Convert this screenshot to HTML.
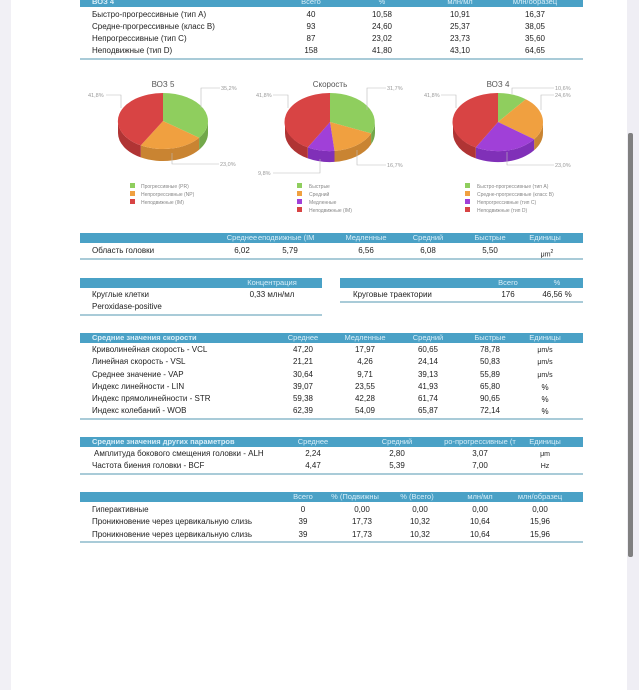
<!DOCTYPE html>
<html><head><meta charset="utf-8"><style>
body{margin:0;width:639px;height:690px;overflow:hidden;background:#fff;font-family:"Liberation Sans",sans-serif;position:relative}
.lm{position:absolute;left:0;top:0;width:11px;height:690px;background:#f1f0f5}
.sb{position:absolute;left:627px;top:0;width:12px;height:690px;background:#efeef4}
.th{position:absolute;left:628px;top:133px;width:5px;height:424px;background:#808080;border-radius:2px}
.t{position:absolute;font-size:8px;color:#222;white-space:nowrap;line-height:10px}
.h{position:absolute;background:#4aa1c6;height:10px}
.w{color:#d8eef8;font-size:7.5px}
.c{transform:translateX(-50%)}
.ln{position:absolute;height:2px;background:#a9cbd8}
.b{font-weight:bold}
</style></head><body>
<div class="lm"></div><div class="sb"></div><div class="th"></div>

<!-- Table 1 -->
<div class="h" style="left:80px;top:-3px;width:503px"></div>
<div class="t w b" style="left:92px;top:-3px">ВОЗ 4</div>
<div class="t w c" style="left:311px;top:-3px">Всего</div>
<div class="t w c" style="left:382px;top:-3px">%</div>
<div class="t w c" style="left:460px;top:-3px">млн/мл</div>
<div class="t w c" style="left:535px;top:-3px">млн/образец</div>
<div class="t" style="left:92px;top:10px">Быстро-прогрессивные (тип A)</div>
<div class="t c" style="left:311px;top:10px">40</div><div class="t c" style="left:382px;top:10px">10,58</div><div class="t c" style="left:460px;top:10px">10,91</div><div class="t c" style="left:535px;top:10px">16,37</div>
<div class="t" style="left:92px;top:22px">Средне-прогрессивные (класс B)</div>
<div class="t c" style="left:311px;top:22px">93</div><div class="t c" style="left:382px;top:22px">24,60</div><div class="t c" style="left:460px;top:22px">25,37</div><div class="t c" style="left:535px;top:22px">38,05</div>
<div class="t" style="left:92px;top:34px">Непрогрессивные (тип C)</div>
<div class="t c" style="left:311px;top:34px">87</div><div class="t c" style="left:382px;top:34px">23,02</div><div class="t c" style="left:460px;top:34px">23,73</div><div class="t c" style="left:535px;top:34px">35,60</div>
<div class="t" style="left:92px;top:46px">Неподвижные (тип D)</div>
<div class="t c" style="left:311px;top:46px">158</div><div class="t c" style="left:382px;top:46px">41,80</div><div class="t c" style="left:460px;top:46px">43,10</div><div class="t c" style="left:535px;top:46px">64,65</div>
<div class="ln" style="left:80px;top:58px;width:503px"></div>

<!-- Pies -->
<svg style="position:absolute;left:0;top:0" width="639" height="230" font-family="Liberation Sans, sans-serif">
<g font-size="5.5" fill="#999">
<text x="163" y="87" font-size="8" fill="#555" text-anchor="middle">ВОЗ 5</text>
<path d="M208,121 A45 28 0 0 1 199.1,137.7 L199.1,149.7 A45 28 0 0 0 208,133 Z" fill="#72a84a"/>
<path d="M199.1,137.7 A45 28 0 0 1 140.8,145.4 L140.8,157.4 A45 28 0 0 0 199.1,149.7 Z" fill="#c98432"/>
<path d="M140.8,145.4 A45 28 0 0 1 118,121 L118,133 A45 28 0 0 0 140.8,157.4 Z" fill="#b03434"/>
<path d="M163,121 L163,93 A45 28 0 0 1 199.1,137.7 Z" fill="#8fce5e"/>
<path d="M163,121 L199.1,137.7 A45 28 0 0 1 140.8,145.4 Z" fill="#f0a040"/>
<path d="M163,121 L140.8,145.4 A45 28 0 0 1 163,93 Z" fill="#d84444"/>
<polyline points="201,108 201,88 220,88" fill="none" stroke="#bbb" stroke-width=".6"/><text x="221" y="90">35,2%</text>
<polyline points="172,153 172,164 219,164" fill="none" stroke="#bbb" stroke-width=".6"/><text x="220" y="166">23,0%</text>
<polyline points="121,108 121,95 106,95" fill="none" stroke="#bbb" stroke-width=".6"/><text x="88" y="97">41,8%</text>
<text x="330" y="87" font-size="8" fill="#555" text-anchor="middle">Скорость</text>
<path d="M375,122 A45 29 0 0 1 371.1,133.4 L371.1,144.4 A45 29 0 0 0 375,133 Z" fill="#72a84a"/>
<path d="M371.1,133.4 A45 29 0 0 1 334.5,150.9 L334.5,161.9 A45 29 0 0 0 371.1,144.4 Z" fill="#c98432"/>
<path d="M334.5,150.9 A45 29 0 0 1 307.8,147.4 L307.8,158.4 A45 29 0 0 0 334.5,161.9 Z" fill="#8030b8"/>
<path d="M307.8,147.4 A45 29 0 0 1 285,122 L285,133 A45 29 0 0 0 307.8,158.4 Z" fill="#b03434"/>
<path d="M330,122 L330,93 A45 29 0 0 1 371.1,133.4 Z" fill="#8fce5e"/>
<path d="M330,122 L371.1,133.4 A45 29 0 0 1 334.5,150.9 Z" fill="#f0a040"/>
<path d="M330,122 L334.5,150.9 A45 29 0 0 1 307.8,147.4 Z" fill="#a040d8"/>
<path d="M330,122 L307.8,147.4 A45 29 0 0 1 330,93 Z" fill="#d84444"/>
<polyline points="367,110 367,88 386,88" fill="none" stroke="#bbb" stroke-width=".6"/><text x="387" y="90">31,7%</text>
<polyline points="357,150 357,165 386,165" fill="none" stroke="#bbb" stroke-width=".6"/><text x="387" y="167">16,7%</text>
<polyline points="320,159 320,173 273,173" fill="none" stroke="#bbb" stroke-width=".6"/><text x="258" y="175">9,8%</text>
<polyline points="288,108 288,95 273,95" fill="none" stroke="#bbb" stroke-width=".6"/><text x="256" y="97">41,8%</text>
<text x="498" y="87" font-size="8" fill="#555" text-anchor="middle">ВОЗ 4</text>
<path d="M543,122 A45 29 0 0 1 534.1,139.3 L534.1,150.3 A45 29 0 0 0 543,133 Z" fill="#c98432"/>
<path d="M534.1,139.3 A45 29 0 0 1 475.8,147.4 L475.8,158.4 A45 29 0 0 0 534.1,150.3 Z" fill="#8030b8"/>
<path d="M475.8,147.4 A45 29 0 0 1 453,122 L453,133 A45 29 0 0 0 475.8,158.4 Z" fill="#b03434"/>
<path d="M498,122 L498,93 A45 29 0 0 1 525.8,99.2 Z" fill="#8fce5e"/>
<path d="M498,122 L525.8,99.2 A45 29 0 0 1 534.1,139.3 Z" fill="#f0a040"/>
<path d="M498,122 L534.1,139.3 A45 29 0 0 1 475.8,147.4 Z" fill="#a040d8"/>
<path d="M498,122 L475.8,147.4 A45 29 0 0 1 498,93 Z" fill="#d84444"/>
<polyline points="512,94 512,88 554,88" fill="none" stroke="#bbb" stroke-width=".6"/><text x="555" y="90">10,6%</text>
<polyline points="541,110 541,95 554,95" fill="none" stroke="#bbb" stroke-width=".6"/><text x="555" y="97">24,6%</text>
<polyline points="507,152 507,165 554,165" fill="none" stroke="#bbb" stroke-width=".6"/><text x="555" y="167">23,0%</text>
<polyline points="456,108 456,95 441,95" fill="none" stroke="#bbb" stroke-width=".6"/><text x="424" y="97">41,8%</text>
</g>
<g font-size="5" fill="#888">
<rect x="130" y="183" width="5" height="5" fill="#8fce5e"/><text x="141" y="188">Прогрессивные (PR)</text>
<rect x="130" y="191" width="5" height="5" fill="#f0a040"/><text x="141" y="196">Непрогрессивные (NP)</text>
<rect x="130" y="199" width="5" height="5" fill="#d84444"/><text x="141" y="204">Неподвижные (IM)</text>
<rect x="297" y="183" width="5" height="5" fill="#8fce5e"/><text x="309" y="188">Быстрые</text>
<rect x="297" y="191" width="5" height="5" fill="#f0a040"/><text x="309" y="196">Средний</text>
<rect x="297" y="199" width="5" height="5" fill="#a040d8"/><text x="309" y="204">Медленные</text>
<rect x="297" y="207" width="5" height="5" fill="#d84444"/><text x="309" y="212">Неподвижные (IM)</text>
<rect x="465" y="183" width="5" height="5" fill="#8fce5e"/><text x="477" y="188">Быстро-прогрессивные (тип A)</text>
<rect x="465" y="191" width="5" height="5" fill="#f0a040"/><text x="477" y="196">Средне-прогрессивные (класс B)</text>
<rect x="465" y="199" width="5" height="5" fill="#a040d8"/><text x="477" y="204">Непрогрессивные (тип C)</text>
<rect x="465" y="207" width="5" height="5" fill="#d84444"/><text x="477" y="212">Неподвижные (тип D)</text>
</g>
</svg>

<!-- Head area -->
<div class="h" style="left:80px;top:233px;width:503px"></div>
<div class="t w c" style="left:242px;top:233px">Среднее</div>
<div class="t w" style="left:258px;top:233px;width:62px;overflow:hidden">еподвижные (IM</div>
<div class="t w c" style="left:366px;top:233px">Медленные</div>
<div class="t w c" style="left:428px;top:233px">Средний</div>
<div class="t w c" style="left:490px;top:233px">Быстрые</div>
<div class="t w c" style="left:545px;top:233px">Единицы</div>
<div class="t" style="left:92px;top:246px">Область головки</div>
<div class="t c" style="left:242px;top:246px">6,02</div><div class="t c" style="left:290px;top:246px">5,79</div><div class="t c" style="left:366px;top:246px">6,56</div><div class="t c" style="left:428px;top:246px">6,08</div><div class="t c" style="left:490px;top:246px">5,50</div>
<div class="t c" style="left:547px;top:247px;font-size:7px">μm<sup style="font-size:5px">2</sup></div>
<div class="ln" style="left:80px;top:258px;width:503px"></div>

<!-- Concentration -->
<div class="h" style="left:80px;top:278px;width:242px"></div>
<div class="t w c" style="left:272px;top:278px">Концентрация</div>
<div class="t" style="left:92px;top:290px">Круглые клетки</div>
<div class="t c" style="left:272px;top:290px">0,33 млн/мл</div>
<div class="t" style="left:92px;top:302px">Peroxidase-positive</div>
<div class="ln" style="left:80px;top:314px;width:242px"></div>
<div class="h" style="left:340px;top:278px;width:243px"></div>
<div class="t w c" style="left:508px;top:278px">Всего</div>
<div class="t w c" style="left:557px;top:278px">%</div>
<div class="t" style="left:353px;top:290px">Круговые траектории</div>
<div class="t c" style="left:508px;top:290px">176</div>
<div class="t c" style="left:557px;top:290px">46,56 %</div>
<div class="ln" style="left:340px;top:301px;width:243px"></div>

<!-- Velocity -->
<div class="h" style="left:80px;top:333px;width:503px"></div>
<div class="t w b" style="left:92px;top:333px">Средние значения скорости</div>
<div class="t w c" style="left:303px;top:333px">Среднее</div>
<div class="t w c" style="left:365px;top:333px">Медленные</div>
<div class="t w c" style="left:428px;top:333px">Средний</div>
<div class="t w c" style="left:490px;top:333px">Быстрые</div>
<div class="t w c" style="left:545px;top:333px">Единицы</div>

<div class="t" style="left:92px;top:345px">Криволинейная скорость - VCL</div>
<div class="t c" style="left:303px;top:345px">47,20</div><div class="t c" style="left:365px;top:345px">17,97</div><div class="t c" style="left:428px;top:345px">60,65</div><div class="t c" style="left:490px;top:345px">78,78</div><div class="t c" style="left:545px;top:346px;font-size:7px">μm/s</div>
<div class="t" style="left:92px;top:357px">Линейная скорость - VSL</div>
<div class="t c" style="left:303px;top:357px">21,21</div><div class="t c" style="left:365px;top:357px">4,26</div><div class="t c" style="left:428px;top:357px">24,14</div><div class="t c" style="left:490px;top:357px">50,83</div><div class="t c" style="left:545px;top:358px;font-size:7px">μm/s</div>
<div class="t" style="left:92px;top:370px">Среднее значение - VAP</div>
<div class="t c" style="left:303px;top:370px">30,64</div><div class="t c" style="left:365px;top:370px">9,71</div><div class="t c" style="left:428px;top:370px">39,13</div><div class="t c" style="left:490px;top:370px">55,89</div><div class="t c" style="left:545px;top:371px;font-size:7px">μm/s</div>
<div class="t" style="left:92px;top:382px">Индекс линейности - LIN</div>
<div class="t c" style="left:303px;top:382px">39,07</div><div class="t c" style="left:365px;top:382px">23,55</div><div class="t c" style="left:428px;top:382px">41,93</div><div class="t c" style="left:490px;top:382px">65,80</div><div class="t c" style="left:545px;top:383px">%</div>
<div class="t" style="left:92px;top:394px">Индекс прямолинейности - STR</div>
<div class="t c" style="left:303px;top:394px">59,38</div><div class="t c" style="left:365px;top:394px">42,28</div><div class="t c" style="left:428px;top:394px">61,74</div><div class="t c" style="left:490px;top:394px">90,65</div><div class="t c" style="left:545px;top:395px">%</div>
<div class="t" style="left:92px;top:406px">Индекс колебаний - WOB</div>
<div class="t c" style="left:303px;top:406px">62,39</div><div class="t c" style="left:365px;top:406px">54,09</div><div class="t c" style="left:428px;top:406px">65,87</div><div class="t c" style="left:490px;top:406px">72,14</div><div class="t c" style="left:545px;top:407px">%</div>
<div class="ln" style="left:80px;top:418px;width:503px"></div>

<!-- Other -->
<div class="h" style="left:80px;top:437px;width:503px"></div>
<div class="t w b" style="left:92px;top:437px">Средние значения других параметров</div>
<div class="t w c" style="left:313px;top:437px">Среднее</div>
<div class="t w c" style="left:397px;top:437px">Средний</div>
<div class="t w c" style="left:480px;top:437px">ро-прогрессивные (т</div>
<div class="t w c" style="left:545px;top:437px">Единицы</div>
<div class="t" style="left:94px;top:449px">Амплитуда бокового смещения головки - ALH</div>
<div class="t c" style="left:313px;top:449px">2,24</div><div class="t c" style="left:397px;top:449px">2,80</div><div class="t c" style="left:480px;top:449px">3,07</div><div class="t c" style="left:545px;top:450px;font-size:7px">μm</div>
<div class="t" style="left:92px;top:461px">Частота биения головки - BCF</div>
<div class="t c" style="left:313px;top:461px">4,47</div><div class="t c" style="left:397px;top:461px">5,39</div><div class="t c" style="left:480px;top:461px">7,00</div><div class="t c" style="left:545px;top:462px;font-size:7px">Hz</div>
<div class="ln" style="left:80px;top:473px;width:503px"></div>

<!-- Last -->
<div class="h" style="left:80px;top:492px;width:503px"></div>
<div class="t w c" style="left:303px;top:492px">Всего</div>
<div class="t w c" style="left:355px;top:492px">% (Подвижны</div>
<div class="t w c" style="left:417px;top:492px">% (Всего)</div>
<div class="t w c" style="left:480px;top:492px">млн/мл</div>
<div class="t w c" style="left:540px;top:492px">млн/образец</div>
<div class="t" style="left:92px;top:505px">Гиперактивные</div>
<div class="t c" style="left:303px;top:505px">0</div><div class="t c" style="left:362px;top:505px">0,00</div><div class="t c" style="left:420px;top:505px">0,00</div><div class="t c" style="left:480px;top:505px">0,00</div><div class="t c" style="left:540px;top:505px">0,00</div>
<div class="t" style="left:92px;top:517px">Проникновение через цервикальную слизь</div>
<div class="t c" style="left:303px;top:517px">39</div><div class="t c" style="left:362px;top:517px">17,73</div><div class="t c" style="left:420px;top:517px">10,32</div><div class="t c" style="left:480px;top:517px">10,64</div><div class="t c" style="left:540px;top:517px">15,96</div>
<div class="t" style="left:92px;top:530px">Проникновение через цервикальную слизь</div>
<div class="t c" style="left:303px;top:530px">39</div><div class="t c" style="left:362px;top:530px">17,73</div><div class="t c" style="left:420px;top:530px">10,32</div><div class="t c" style="left:480px;top:530px">10,64</div><div class="t c" style="left:540px;top:530px">15,96</div>
<div class="ln" style="left:80px;top:541px;width:503px"></div>
</body></html>
